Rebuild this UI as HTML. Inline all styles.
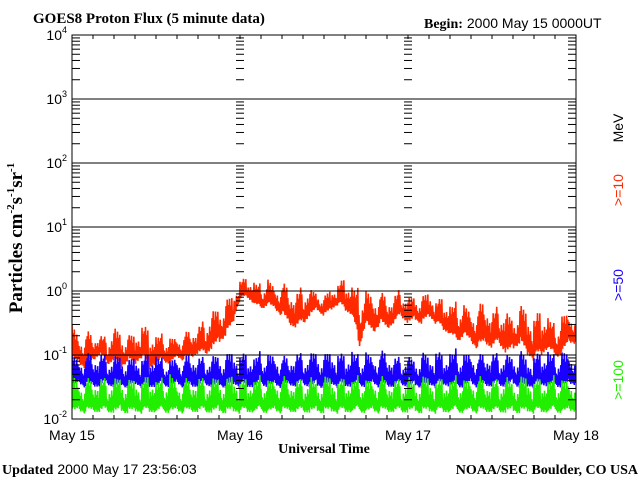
<!DOCTYPE html>
<html><head><meta charset="utf-8"><style>
html,body{margin:0;padding:0;background:#fff;}
svg{display:block;}
.serif{font-family:"Liberation Serif",serif;font-weight:bold;}
.sans{font-family:"Liberation Sans",sans-serif;}
</style></head><body>
<svg id="chart" width="640" height="480" viewBox="0 0 640 480" xmlns="http://www.w3.org/2000/svg">
<text x="33" y="23" class="serif" font-size="15">GOES8 Proton Flux (5 minute data)</text>
<text x="424" y="28" font-size="14"><tspan class="serif">Begin:</tspan><tspan class="sans" dx="4">2000 May 15 0000UT</tspan></text>
<text transform="translate(22,238) rotate(-90)" text-anchor="middle" class="serif" font-size="19">Particles cm<tspan font-size="11" dy="-8">-2</tspan><tspan dy="8">s</tspan><tspan font-size="11" dy="-8">-1</tspan><tspan dy="8">sr</tspan><tspan font-size="11" dy="-8">-1</tspan></text>
<text x="324" y="453" text-anchor="middle" class="serif" font-size="14">Universal Time</text>
<text x="2" y="474" font-size="14"><tspan class="serif">Updated</tspan><tspan class="sans" dx="4">2000 May 17 23:56:03</tspan></text>
<text x="638" y="474" text-anchor="end" class="serif" font-size="14">NOAA/SEC Boulder, CO USA</text>
<text transform="translate(623,128) rotate(-90)" text-anchor="middle" class="sans" font-size="14">MeV</text>
<text transform="translate(623,190) rotate(-90)" text-anchor="middle" class="sans" font-size="14" fill="#ff2a00">&gt;=10</text>
<text transform="translate(623,285) rotate(-90)" text-anchor="middle" class="sans" font-size="14" fill="#1a00ff">&gt;=50</text>
<text transform="translate(623,380) rotate(-90)" text-anchor="middle" class="sans" font-size="14" fill="#22ee00">&gt;=100</text>
<defs><clipPath id="pc"><rect x="72" y="35" width="504" height="384"/></clipPath></defs>
<g id="series" clip-path="url(#pc)"></g>
<g id="axes"></g>
</svg>
<script>
const dayLabels=["May 15","May 16","May 17","May 18"];
const decades=[-2,-1,0,1,2,3,4];
const redHi=[.3,.2,.25,.2,.22,.18,.28,.25,.2,.22,.3,.25,.2,.22,.18,.2,.22,.25,.3,.35,.5,.6,.7,.9,1.5,1.6,1.4,1.3,1.5,1.2,1.4,1.1,1.0,1.2,1.1,1.0,.8,1.1,1.3,1.6,1.2,1.1,1.0,.9,1.0,.8,.9,1.1,.8,.9,.8,1.0,.7,.8,.6,.7,.6,.5,.6,.7,.5,.6,.5,.4,.6,.5,.4,.5,.4,.3,.4,.5];
const redLo=[.08,.07,.06,.08,.1,.07,.08,.06,.08,.07,.09,.06,.07,.08,.07,.09,.08,.09,.1,.1,.12,.15,.2,.3,.7,.8,.6,.5,.6,.5,.4,.3,.25,.3,.4,.5,.4,.5,.6,.5,.4,.1,.3,.2,.3,.25,.3,.4,.3,.35,.3,.4,.3,.25,.2,.15,.2,.15,.12,.15,.12,.15,.1,.12,.15,.1,.08,.1,.12,.09,.1,.15];
const blueHi=[.1,.09,.11,.1,.12,.09,.1,.11,.08,.1,.09,.11,.1,.09,.08,.1,.09,.11,.1,.09,.1,.11,.1,.12,.1,.11,.09,.12,.1,.11,.1,.09,.12,.1,.11,.13,.1,.12,.11,.1,.12,.1,.11,.1,.12,.11,.1,.09,.1,.09,.11,.1,.12,.1,.11,.13,.1,.12,.1,.11,.12,.1,.11,.1,.12,.09,.1,.11,.12,.1,.11,.12];
const blueLo=[.03,.035,.03,.032,.03,.035,.03,.033,.03,.035,.03,.032,.03,.034,.03,.035,.03,.032,.03,.035,.03,.033,.03,.035,.03,.032,.03,.035,.03,.033,.03,.034,.03,.035,.03,.032,.03,.035,.03,.033,.03,.034,.03,.035,.03,.032,.03,.035,.03,.033,.03,.034,.03,.035,.03,.032,.03,.035,.03,.033,.03,.034,.03,.035,.03,.032,.03,.035,.03,.033,.03,.034];
const greenHi=[.05,.04,.045,.04,.05,.04,.045,.05,.04,.045,.04,.05,.04,.045,.05,.04,.045,.04,.05,.04,.045,.05,.04,.055,.04,.045,.04,.05,.04,.045,.05,.04,.045,.04,.05,.04,.045,.05,.04,.045,.04,.05,.04,.045,.05,.04,.045,.04,.05,.04,.045,.05,.04,.045,.04,.05,.04,.045,.05,.04,.045,.04,.05,.04,.045,.05,.04,.045,.04,.05,.04,.045];
const greenLo=[.012,.013,.012,.013,.012,.013,.012,.013,.012,.013,.012,.013,.012,.013,.012,.013,.012,.013,.012,.013,.012,.013,.012,.013,.012,.013,.012,.013,.012,.013,.012,.013,.012,.013,.012,.013,.012,.013,.012,.013,.012,.013,.012,.013,.012,.013,.012,.013,.012,.013,.012,.013,.012,.013,.012,.013,.012,.013,.012,.013,.012,.013,.012,.013,.012,.013,.012,.013,.012,.013,.012,.013];

const NS="http://www.w3.org/2000/svg";
const X0=72,X1=576,Y0=35,Y1=419,HOURS=72;
const SHAPE=[1,.55,.8,.45,.95,.65,.7,.5,.9,.6,.75,.4,.85,.35];
const xs=h=>X0+(X1-X0)*h/HOURS;
const ys=v=>Y0+64*(4-Math.log10(v));
function mk(tag,attrs,parent){const e=document.createElementNS(NS,tag);for(const k in attrs)e.setAttribute(k,attrs[k]);parent.appendChild(e);return e;}
const sg=document.getElementById('series'),ag=document.getElementById('axes');

function drawSeries(hi,lo,color,name){
  const pts=[];
  const n=hi.length;
  const STEPS=12;
  for(let i=0;i<n;i++){
    const j=Math.min(i+1,n-1);
    for(let k=0;k<STEPS;k++){
      const t=k/STEPS;
      const h=hi[i]*(1-t)+hi[j]*t, l=lo[i]*(1-t)+lo[j]*t;
      const f=SHAPE[(k+i*5)%SHAPE.length];
      const lh=Math.log10(h), ll=Math.log10(l);
      const v=(k%2===0)?Math.pow(10,ll+(lh-ll)*f):Math.pow(10,ll+(lh-ll)*(1-f)*0.3);
      pts.push(xs(i+t).toFixed(1)+","+ys(v).toFixed(1));
    }
  }
  const p=mk('polyline',{points:pts.join(' '),fill:'none',stroke:color,'stroke-width':1.6},sg);
  
  
}
drawSeries(redHi,redLo,'#ff2a00','series-10mev');
drawSeries(blueHi,blueLo,'#1a00ff','series-50mev');
drawSeries(greenHi,greenLo,'#22ee00','series-100mev');

const fr=mk('rect',{x:X0,y:Y0,width:X1-X0,height:Y1-Y0,fill:'none',stroke:'#000','stroke-width':1},ag);


decades.forEach(d=>{
  const y=Y0+64*(4-d);
  if(d>-2&&d<4){const g=mk('line',{x1:X0,x2:X1,y1:y,y2:y,stroke:'#000','stroke-width':1},ag);
    
    }
  const t=mk('text',{x:67,y:y+5,'text-anchor':'end','font-size':14,'font-family':'Liberation Sans, sans-serif'},ag);
  
  
  t.innerHTML='10<tspan font-size="9" dy="-7">'+d+'</tspan>';
  if(d<4){
    for(let m=2;m<=9;m++){
      const ym=ys(m*Math.pow(10,d));
      [[X0,X0+8],[X1-8,X1],[236,244],[404,412]].forEach(([a,b])=>{
        const l=mk('line',{x1:a,x2:b,y1:ym,y2:ym,stroke:'#000','stroke-width':1},ag);
        
        
      });
    }
  }
});
for(let h=0;h<=HOURS;h+=3){
  const x=xs(h);
  [[Y0,Y0+4],[Y1-4,Y1]].forEach(([a,b])=>{
    const l=mk('line',{x1:x,x2:x,y1:a,y2:b,stroke:'#000','stroke-width':1},ag);
    
    
  });
}
dayLabels.forEach((s,i)=>{
  const t=mk('text',{x:xs(i*24),y:440,'text-anchor':'middle','font-size':14,'font-family':'Liberation Sans, sans-serif'},ag);
  
  
  t.textContent=s;
});
</script>
</body></html>
